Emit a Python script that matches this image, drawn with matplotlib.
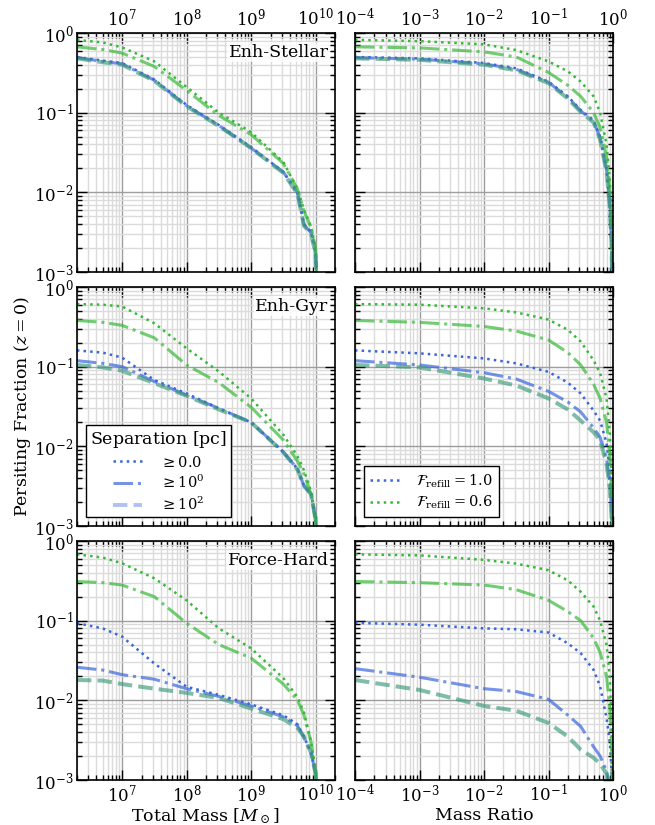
import numpy as np
import matplotlib
matplotlib.use('Agg')
import matplotlib.pyplot as plt
from matplotlib.lines import Line2D

plt.rcParams['font.family'] = 'serif'
plt.rcParams['font.serif'] = ['DejaVu Serif']
plt.rcParams['mathtext.fontset'] = 'dejavuserif'
plt.rcParams['font.size'] = 12

# x grids (log10)
LOG_MTOT = [6.3, 6.7, 7.0, 7.5, 8.0, 8.5, 9.0, 9.5, 9.72, 9.82, 9.93, 10.0, 10.05]
LOG_QRAT = [-4.0, -3.0, -2.0, -1.5, -1.0, -0.7, -0.5, -0.3, -0.2, -0.1, -0.05, -0.02, 0.0]

MODELS = ['Enh-Stellar', 'Enh-Gyr', 'Force-Hard']

# ---- total mass panels: [sep >= 0, sep >= 1, sep >= 100]
stellar_mtot_f10 = [
    [0.50, 0.45, 0.42, 0.26, 0.125, 0.070, 0.037, 0.018, 0.010, 0.0040, 0.0032, 0.0018, 0.0001],
    [0.49, 0.44, 0.41, 0.255, 0.122, 0.069, 0.036, 0.018, 0.0098, 0.0039, 0.0031, 0.0017, 0.0001],
    [0.48, 0.43, 0.40, 0.25, 0.120, 0.068, 0.036, 0.0175, 0.0096, 0.0038, 0.0030, 0.0017, 0.0001],
]
stellar_mtot_f06 = [
    [0.82, 0.76, 0.66, 0.44, 0.21, 0.10, 0.057, 0.024, 0.011, 0.0060, 0.0037, 0.0020, 0.0001],
    [0.67, 0.62, 0.56, 0.38, 0.19, 0.092, 0.053, 0.023, 0.011, 0.0058, 0.0036, 0.0020, 0.0001],
    [0.48, 0.43, 0.40, 0.25, 0.120, 0.068, 0.036, 0.0175, 0.0096, 0.0038, 0.0030, 0.0017, 0.0001],
]
gyr_mtot_f10 = [
    [0.16, 0.15, 0.13, 0.068, 0.046, 0.030, 0.020, 0.0085, 0.0052, 0.0032, 0.0025, 0.0012, 0.0001],
    [0.119, 0.11, 0.10, 0.065, 0.044, 0.030, 0.020, 0.0085, 0.0052, 0.0032, 0.0025, 0.0012, 0.0001],
    [0.105, 0.098, 0.089, 0.062, 0.043, 0.029, 0.020, 0.0084, 0.0051, 0.0032, 0.0025, 0.0012, 0.0001],
]
gyr_mtot_f06 = [
    [0.61, 0.60, 0.57, 0.35, 0.17, 0.087, 0.040, 0.014, 0.0075, 0.0050, 0.0027, 0.0013, 0.0001],
    [0.38, 0.36, 0.33, 0.23, 0.105, 0.063, 0.031, 0.012, 0.0065, 0.0045, 0.0025, 0.0012, 0.0001],
    [0.105, 0.098, 0.089, 0.062, 0.043, 0.029, 0.020, 0.0084, 0.0051, 0.0032, 0.0025, 0.0012, 0.0001],
]
hard_mtot_f10 = [
    [0.093, 0.080, 0.063, 0.029, 0.0148, 0.0117, 0.0089, 0.0065, 0.0050, 0.0035, 0.0022, 0.0012, 0.0001],
    [0.026, 0.024, 0.021, 0.0184, 0.014, 0.0112, 0.0085, 0.0062, 0.0048, 0.0034, 0.0022, 0.0012, 0.0001],
    [0.018, 0.0177, 0.016, 0.0140, 0.0124, 0.0107, 0.0079, 0.0058, 0.0045, 0.0035, 0.0022, 0.0012, 0.0001],
]
hard_mtot_f06 = [
    [0.68, 0.62, 0.525, 0.34, 0.18, 0.080, 0.045, 0.019, 0.011, 0.0070, 0.0030, 0.0013, 0.0001],
    [0.31, 0.30, 0.28, 0.20, 0.093, 0.050, 0.034, 0.016, 0.010, 0.0065, 0.0030, 0.0012, 0.0001],
    [0.018, 0.0177, 0.016, 0.0140, 0.0124, 0.0107, 0.0079, 0.0058, 0.0045, 0.0035, 0.0022, 0.0012, 0.0001],
]

# ---- mass ratio panels
stellar_qrat_f10 = [
    [0.50, 0.48, 0.42, 0.36, 0.245, 0.16, 0.108, 0.080, 0.050, 0.020, 0.007, 0.002, 0.0001],
    [0.49, 0.47, 0.41, 0.35, 0.24, 0.155, 0.105, 0.078, 0.048, 0.019, 0.0068, 0.002, 0.0001],
    [0.48, 0.46, 0.40, 0.34, 0.235, 0.15, 0.102, 0.075, 0.046, 0.018, 0.0065, 0.002, 0.0001],
]
stellar_qrat_f06 = [
    [0.82, 0.79, 0.72, 0.61, 0.44, 0.33, 0.245, 0.16, 0.10, 0.040, 0.015, 0.004, 0.0001],
    [0.67, 0.65, 0.58, 0.50, 0.32, 0.22, 0.16, 0.10, 0.065, 0.028, 0.011, 0.003, 0.0001],
    [0.48, 0.46, 0.40, 0.34, 0.235, 0.15, 0.102, 0.075, 0.046, 0.018, 0.0065, 0.002, 0.0001],
]
gyr_qrat_f10 = [
    [0.16, 0.147, 0.127, 0.11, 0.086, 0.063, 0.046, 0.028, 0.021, 0.011, 0.005, 0.0018, 0.0001],
    [0.119, 0.105, 0.084, 0.070, 0.049, 0.036, 0.027, 0.017, 0.013, 0.007, 0.0035, 0.0015, 0.0001],
    [0.105, 0.098, 0.071, 0.058, 0.040, 0.029, 0.021, 0.015, 0.012, 0.006, 0.003, 0.0012, 0.0001],
]
gyr_qrat_f06 = [
    [0.61, 0.60, 0.54, 0.48, 0.39, 0.29, 0.206, 0.12, 0.083, 0.040, 0.015, 0.004, 0.0001],
    [0.38, 0.36, 0.32, 0.28, 0.216, 0.15, 0.105, 0.060, 0.040, 0.020, 0.008, 0.0025, 0.0001],
    [0.105, 0.098, 0.071, 0.058, 0.040, 0.029, 0.021, 0.015, 0.012, 0.006, 0.003, 0.0012, 0.0001],
]
hard_qrat_f10 = [
    [0.094, 0.089, 0.080, 0.078, 0.071, 0.052, 0.039, 0.024, 0.015, 0.006, 0.003, 0.0012, 0.0001],
    [0.025, 0.0195, 0.014, 0.0129, 0.0103, 0.0065, 0.0047, 0.0026, 0.0020, 0.0013, 0.0008, 0.0004, 0.0001],
    [0.018, 0.0135, 0.0085, 0.0074, 0.0052, 0.0035, 0.0024, 0.0019, 0.0016, 0.0012, 0.0007, 0.0003, 0.0001],
]
hard_qrat_f06 = [
    [0.68, 0.66, 0.58, 0.52, 0.43, 0.32, 0.23, 0.15, 0.10, 0.050, 0.020, 0.005, 0.0001],
    [0.31, 0.30, 0.28, 0.245, 0.18, 0.13, 0.10, 0.060, 0.040, 0.020, 0.008, 0.0025, 0.0001],
    [0.018, 0.0135, 0.0085, 0.0074, 0.0052, 0.0035, 0.0024, 0.0019, 0.0016, 0.0012, 0.0007, 0.0003, 0.0001],
]

MTOT_DATA = [(stellar_mtot_f10, stellar_mtot_f06), (gyr_mtot_f10, gyr_mtot_f06), (hard_mtot_f10, hard_mtot_f06)]
QRAT_DATA = [(stellar_qrat_f10, stellar_qrat_f06), (gyr_qrat_f10, gyr_qrat_f06), (hard_qrat_f10, hard_qrat_f06)]

SEP_LABELS = [r'$\geq 0.0$', r'$\geq 10^0$', r'$\geq 10^2$']
REFILL_LABELS = [r'$\mathcal{F}_\mathrm{refill} = 1.0$', r'$\mathcal{F}_\mathrm{refill} = 0.6$']

BLUE = '#3a66dd'
GREEN = '#38b838'
STYLES = [dict(ls=':', lw=1.8, alpha=1.0),
          dict(ls='-.', lw=2.2, alpha=0.7),
          dict(ls='--', lw=2.8, alpha=0.4)]


def style_axis(ax, row, col):
    ax.set_xscale('log')
    ax.set_yscale('log')
    ax.set_ylim(1e-3, 1.0)
    if col == 0:
        ax.set_xlim(2e6, 2e10)
    else:
        ax.set_xlim(1e-4, 1.0)
    ax.grid(True, which='major', color='0.62', lw=1.0, zorder=0)
    ax.grid(True, which='minor', color='0.86', lw=1.0, zorder=0)
    ax.set_axisbelow(True)
    ax.tick_params(which='both', direction='in', top=True, right=True,
                   labeltop=(row == 0), labelbottom=(row == 2),
                   labelleft=(col == 0), labelright=False)
    ax.tick_params(which='major', length=7, width=1, pad=2.5)
    ax.tick_params(which='minor', length=3.5, width=1)
    ax.tick_params(axis='both', labelsize=12)
    for sp in ax.spines.values():
        sp.set_linewidth(1.2)


fig = plt.figure(figsize=(6.55, 8.25), dpi=100)
lefts = [77 / 655., 355 / 655.]
bottoms = [1 - 272 / 825., 1 - 526 / 825., 1 - 780 / 825.]
w, h = 258 / 655., 239 / 825.

axes = []
for row in range(3):
    for col in range(2):
        ax = fig.add_axes([lefts[col], bottoms[row], w, h])
        style_axis(ax, row, col)
        if col == 0:
            xx = 10.0 ** np.array(LOG_MTOT)
            f10, f06 = MTOT_DATA[row]
        else:
            xx = 10.0 ** np.array(LOG_QRAT)
            f10, f06 = QRAT_DATA[row]
        for ii in range(3):
            ax.plot(xx, f10[ii], color=BLUE, **STYLES[ii])
            ax.plot(xx, f06[ii], color=GREEN, **STYLES[ii])
        if col == 0:
            ax.text(0.975, 0.955, MODELS[row], transform=ax.transAxes, ha='right', va='top',
                    fontsize=12.5, bbox=dict(facecolor='white', edgecolor='none', alpha=0.8, pad=1))
        axes.append(ax)

axes[4].set_xlabel(r'Total Mass $[M_\odot]$', fontsize=12.5, labelpad=1)
axes[5].set_xlabel('Mass Ratio', fontsize=12.5, labelpad=1)
fig.text(0.034, 0.507, r'Persiting Fraction $(z=0)$', rotation=90, ha='center', va='center', fontsize=12.5)

# legends
sep_handles = [Line2D([], [], color=BLUE, **STYLES[ii]) for ii in range(3)]
leg = axes[2].legend(sep_handles, SEP_LABELS, loc='lower left', title=r'Separation $[\mathrm{pc}]$',
                     fontsize=10.5, title_fontsize=12.5, fancybox=False, framealpha=1.0,
                     edgecolor='k', handlelength=2.0, labelspacing=0.3, borderpad=0.3,
                     handletextpad=1.2, borderaxespad=0.6)
leg.get_frame().set_linewidth(1.0)

refill_handles = [Line2D([], [], color=BLUE, **STYLES[0]), Line2D([], [], color=GREEN, **STYLES[0])]
leg2 = axes[3].legend(refill_handles, REFILL_LABELS, loc='lower left', fontsize=10.5,
                      fancybox=False, framealpha=1.0, edgecolor='k', handlelength=2.0,
                      labelspacing=0.3, borderpad=0.4, handletextpad=1.2, borderaxespad=0.6)
leg2.get_frame().set_linewidth(1.0)

fig.savefig('out.png', dpi=100)
